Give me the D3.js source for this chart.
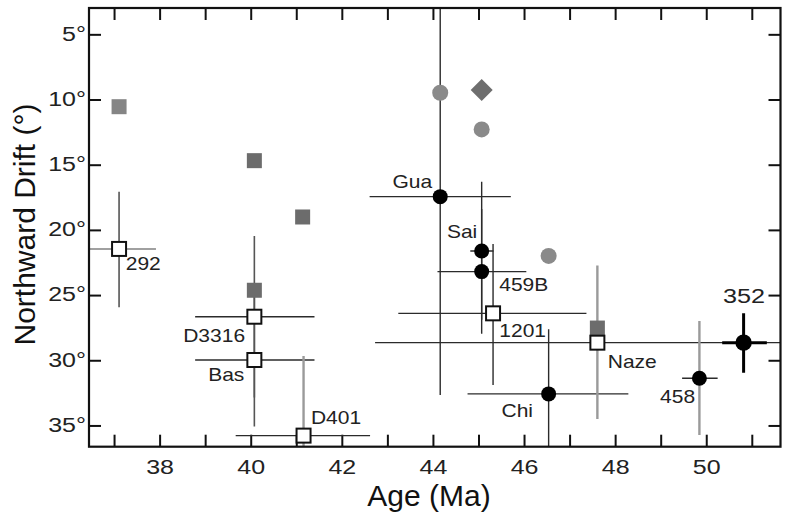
<!DOCTYPE html>
<html>
<head>
<meta charset="utf-8">
<script src="https://cdn.jsdelivr.net/npm/d3@7"></script>
<style>
  html, body { margin: 0; padding: 0; background: #fff; }
  svg { display: block; font-family: "Liberation Sans", Arial, Helvetica, sans-serif; }
</style>
</head>
<body>
<svg id="chart" width="787" height="529"></svg>
<script>
// Paleomagnetic sites: age (Ma) vs. northward drift (degrees)
const sites      = ["292", "D3316", "Bas", "D401", "Gua", "Sai", "459B", "1201", "Chi", "Naze", "458", "352"];
const siteAge    = [37.11, 40.08, 40.08, 41.16, 44.16, 45.07, 45.07, 45.32, 46.54, 47.61, 49.85, 50.82];
const siteDrift  = [21.46, 26.66, 29.98, 35.78, 17.45, 21.62, 23.20, 26.40, 32.58, 28.65, 31.38, 28.65];
const ageMin     = [36.30, 38.78, 38.78, 39.67, 42.61, 44.82, 44.10, 43.24, 44.76, 42.73, 49.47, 50.35];
const ageMax     = [37.92, 41.40, 41.40, 42.62, 45.71, 45.33, 46.05, 47.37, 48.29, 52.49, 50.25, 51.33];
const driftMin   = [17.07, 20.46, 24.88, 29.67,  2.00, 16.30, 18.40, 21.08, 27.62, 22.74, 26.99, 26.40];
const driftMax   = [25.94, 32.86, 35.08, 41.90, 32.66, 26.90, 27.96, 31.90, 37.50, 34.50, 35.73, 30.95];
const siteKind   = ["open", "open", "open", "open", "dot", "dot", "dot", "open", "dot", "open", "dot", "dot"];

// Comparison estimates (grey symbols)
const squareAge   = [37.11, 40.08, 41.14, 40.08, 47.61];
const squareDrift = [10.55, 14.69, 19.01, 24.63, 27.53];
const circleAge   = [44.16, 45.07, 46.54];
const circleDrift = [9.48, 12.29, 22.00];
const diamondAge   = [45.07];
const diamondDrift = [9.27];

// Axis ticks
const ageTicks   = [37, 38, 39, 40, 41, 42, 43, 44, 45, 46, 47, 48, 49, 50, 51];
const driftTicks = [5, 10, 15, 20, 25, 30, 35];

// ---- layout ----
const frame = { left: 89, right: 780.5, top: 8, bottom: 446.7 };
const x = d3.scaleLinear().domain([36.45, 51.63]).range([frame.left, frame.right]);
const y = d3.scaleLinear().domain([2.98, 36.63]).range([frame.top, frame.bottom]);

const svg = d3.select("#chart");

svg.append("defs").append("clipPath").attr("id", "plot-clip")
  .append("rect")
  .attr("x", frame.left).attr("y", frame.top)
  .attr("width", frame.right - frame.left).attr("height", frame.bottom - frame.top);

// ---- axes (ticks point inward) ----
const tickLen = 12;
function styleAxis(g) {
  g.select(".domain").remove();
  g.selectAll(".tick line").attr("stroke", "#111").attr("stroke-width", 2);
}

svg.append("g")
  .attr("transform", `translate(0,${frame.bottom})`)
  .call(d3.axisBottom(x).tickValues(ageTicks).tickSize(-tickLen)
        .tickFormat(d => d % 2 === 0 ? d : ""))
  .call(styleAxis)
  .call(g => g.selectAll(".tick text")
    .attr("y", 27).attr("dy", 0)
    .attr("font-size", 20).attr("fill", "#222")
    .attr("font-family", "Liberation Sans, Arial, sans-serif")
    .attr("transform", "scale(1.25,1)"));

svg.append("g")
  .attr("transform", `translate(0,${frame.top})`)
  .call(d3.axisTop(x).tickValues(ageTicks).tickSize(-tickLen).tickFormat(""))
  .call(styleAxis);

svg.append("g")
  .attr("transform", `translate(${frame.left},0)`)
  .call(d3.axisLeft(y).tickValues(driftTicks).tickSize(-tickLen).tickFormat(d => d + "°"))
  .call(styleAxis)
  .call(g => g.selectAll(".tick text")
    .attr("x", -2.4).attr("dy", 5.8)
    .attr("font-size", 20).attr("fill", "#222")
    .attr("font-family", "Liberation Sans, Arial, sans-serif")
    .attr("transform", "scale(1.25,1)"));

svg.append("g")
  .attr("transform", `translate(${frame.right},0)`)
  .call(d3.axisRight(y).tickValues(driftTicks).tickSize(-tickLen).tickFormat(""))
  .call(styleAxis);

// axis titles
svg.append("text")
  .attr("x", 429).attr("y", 506)
  .attr("text-anchor", "middle")
  .attr("font-size", 30).attr("fill", "#111")
  .text("Age (Ma)");

svg.append("text")
  .attr("transform", "translate(35,224.5) rotate(-90)")
  .attr("text-anchor", "middle")
  .attr("font-size", 30).attr("fill", "#111")
  .text("Northward Drift (°)");

// ---- error bars ----
const bars = svg.append("g").attr("clip-path", "url(#plot-clip)");
const idx = d3.range(sites.length);

// bar colour/width per site: grey for some, heavy black for 352
const greyVertical = new Set(["D401", "Naze", "458"]);
const greyHorizontal = new Set(["292"]);
const midVertical = new Set(["292", "D3316", "Bas"]);

function barStyle(site, dir) {
  if (site === "352") return { stroke: "#000", width: 3 };
  if (dir === "v" && greyVertical.has(site)) return { stroke: "#9a9a9a", width: 2.4 };
  if (dir === "h" && greyHorizontal.has(site)) return { stroke: "#a0a0a0", width: 2 };
  if (dir === "v" && midVertical.has(site)) return { stroke: "#555", width: 1.6 };
  return { stroke: "#2b2b2b", width: 1.4 };
}

bars.selectAll("line.h").data(idx).join("line")
  .attr("class", "h")
  .attr("x1", i => x(ageMin[i])).attr("x2", i => x(ageMax[i]))
  .attr("y1", i => y(siteDrift[i])).attr("y2", i => y(siteDrift[i]))
  .attr("stroke", i => barStyle(sites[i], "h").stroke)
  .attr("stroke-width", i => barStyle(sites[i], "h").width);

bars.selectAll("line.v").data(idx).join("line")
  .attr("class", "v")
  .attr("x1", i => x(siteAge[i])).attr("x2", i => x(siteAge[i]))
  .attr("y1", i => y(driftMin[i])).attr("y2", i => y(driftMax[i]))
  .attr("stroke", i => barStyle(sites[i], "v").stroke)
  .attr("stroke-width", i => barStyle(sites[i], "v").width);

// ---- grey comparison symbols ----
const marks = svg.append("g");
const sq = 15;
marks.selectAll("rect.grey").data(d3.range(squareAge.length)).join("rect")
  .attr("class", "grey")
  .attr("x", i => x(squareAge[i]) - sq / 2).attr("y", i => y(squareDrift[i]) - sq / 2)
  .attr("width", sq).attr("height", sq)
  .attr("fill", i => i === 0 ? "#858585" : "#6c6c6c");

marks.selectAll("circle.grey").data(d3.range(circleAge.length)).join("circle")
  .attr("class", "grey")
  .attr("cx", i => x(circleAge[i])).attr("cy", i => y(circleDrift[i]))
  .attr("r", 8).attr("fill", "#8a8a8a");

marks.selectAll("path.diamond").data(d3.range(diamondAge.length)).join("path")
  .attr("class", "diamond")
  .attr("transform", i => `translate(${x(diamondAge[i])},${y(diamondDrift[i])})`)
  .attr("d", "M0,-11L11,0L0,11L-11,0Z")
  .attr("fill", "#6e6e6e");

// ---- site symbols ----
const openIdx = idx.filter(i => siteKind[i] === "open");
const dotIdx = idx.filter(i => siteKind[i] === "dot");
const os = 14;
marks.selectAll("rect.open").data(openIdx).join("rect")
  .attr("class", "open")
  .attr("x", i => x(siteAge[i]) - os / 2).attr("y", i => y(siteDrift[i]) - os / 2)
  .attr("width", os).attr("height", os)
  .attr("fill", "#fff").attr("stroke", "#111").attr("stroke-width", 2);

marks.selectAll("circle.dot").data(dotIdx).join("circle")
  .attr("class", "dot")
  .attr("cx", i => x(siteAge[i])).attr("cy", i => y(siteDrift[i]))
  .attr("r", i => sites[i] === "352" ? 8.2 : 7.5)
  .attr("fill", "#000");

// ---- site labels ----
// offset from the symbol centre, text anchor, font size
const labelPlace = {
  "292":   [6.7, 21, "start", 17.5],
  "D3316": [-9.3, 25.5, "end", 17.5],
  "Bas":   [-10, 21, "end", 17.5],
  "D401":  [7.4, -12, "start", 17.5],
  "Gua":   [-8, -8.5, "end", 17.5],
  "Sai":   [-4.4, -13, "end", 17.5],
  "459B":  [17.6, 19, "start", 17.5],
  "1201":  [6.3, 23.7, "start", 17.5],
  "Chi":   [-15.6, 23, "end", 17.5],
  "Naze":  [10.4, 25.8, "start", 17.5],
  "458":   [-4.3, 24.7, "end", 17.5],
  "352":   [0.4, -39.7, "middle", 21]
};

const labels = svg.append("g");
idx.forEach(i => {
  const p = labelPlace[sites[i]];
  labels.append("g")
    .attr("transform", `translate(${x(siteAge[i]) + p[0]},${y(siteDrift[i]) + p[1]})`)
    .append("text")
    .attr("text-anchor", p[2])
    .attr("font-size", p[3])
    .attr("fill", "#222")
    .attr("transform", "scale(1.2,1)")
    .text(sites[i]);
});

// ---- frame ----
svg.append("rect")
  .attr("x", frame.left).attr("y", frame.top)
  .attr("width", frame.right - frame.left).attr("height", frame.bottom - frame.top)
  .attr("fill", "none").attr("stroke", "#111").attr("stroke-width", 2.2);
</script>
</body>
</html>
